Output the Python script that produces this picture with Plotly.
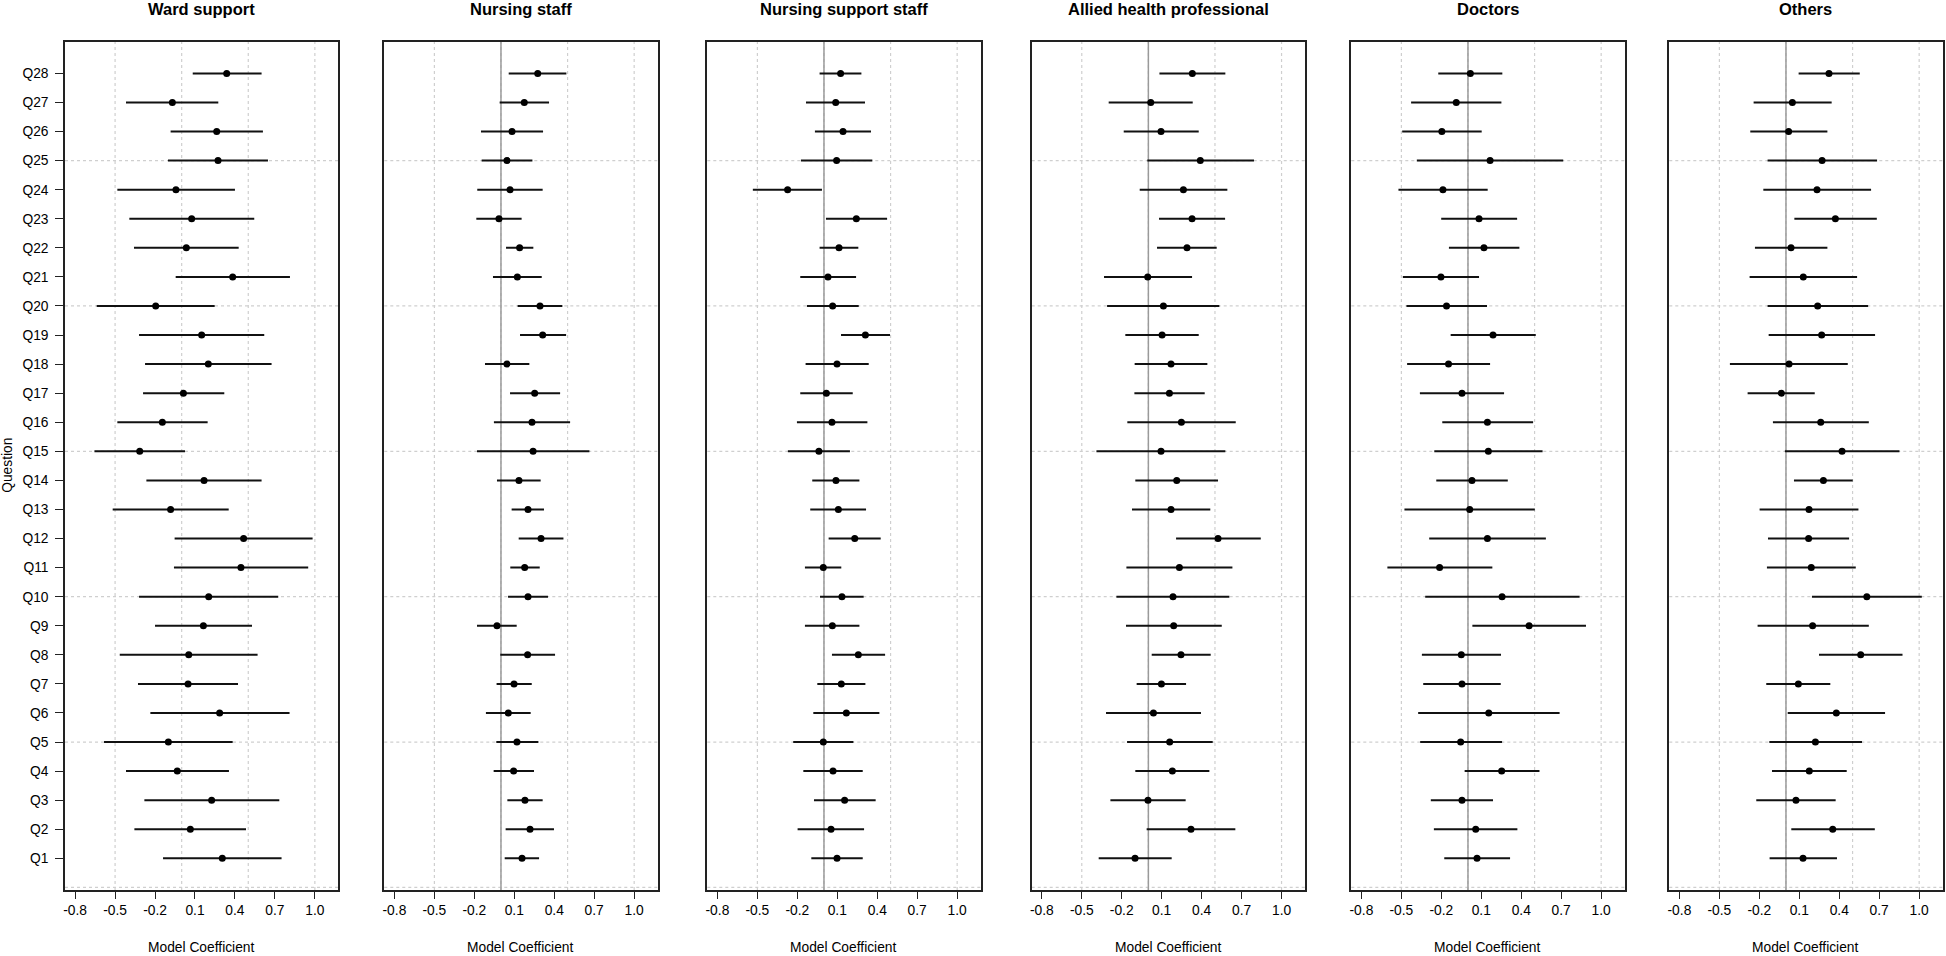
import plotly.graph_objects as go

W, H = 1946, 956

questions = [f"Q{i}" for i in range(1, 29)]
q_pos = list(range(1, 29))

panel_titles = ["Ward support", "Nursing staff", "Nursing support staff",
                "Allied health professional", "Doctors", "Others"]

x_tickvals = [-0.8, -0.5, -0.2, 0.1, 0.4, 0.7, 1.0]
x_ticktext = ["-0.8", "-0.5", "-0.2", "0.1", "0.4", "0.7", "1.0"]
x_gridvals = [-0.5, 0.0, 0.5, 1.0]
y_gridvals = [0, 5, 10, 15, 20, 25]

# Values listed Q1 .. Q28
ward_coef = [0.305, 0.065, 0.225, -0.033, -0.10, 0.285, 0.048, 0.053, 0.163, 0.203, 0.445, 0.465, -0.083, 0.168,
             -0.315, -0.145, 0.013, 0.20, 0.15, -0.195, 0.383, 0.035, 0.075, -0.043, 0.273, 0.263, -0.07, 0.338]
ward_lo = [-0.14, -0.355, -0.28, -0.418, -0.583, -0.235, -0.328, -0.465, -0.20, -0.32, -0.058, -0.053, -0.518, -0.265,
           -0.655, -0.483, -0.29, -0.275, -0.32, -0.638, -0.045, -0.358, -0.393, -0.483, -0.103, -0.083, -0.418, 0.083]
ward_hi = [0.75, 0.483, 0.733, 0.355, 0.383, 0.81, 0.423, 0.57, 0.528, 0.725, 0.95, 0.983, 0.353, 0.60,
           0.025, 0.195, 0.32, 0.675, 0.62, 0.248, 0.813, 0.428, 0.545, 0.40, 0.648, 0.61, 0.275, 0.60]

nurse_coef = [0.158, 0.218, 0.18, 0.095, 0.12, 0.055, 0.098, 0.20, -0.03, 0.203, 0.178, 0.301, 0.203, 0.135,
              0.241, 0.233, 0.253, 0.045, 0.313, 0.293, 0.123, 0.14, -0.015, 0.068, 0.045, 0.083, 0.175, 0.276]
nurse_lo = [0.028, 0.035, 0.048, -0.055, -0.035, -0.113, -0.033, -0.005, -0.18, 0.053, 0.07, 0.133, 0.08, -0.03,
            -0.18, -0.053, 0.068, -0.12, 0.143, 0.125, -0.06, 0.038, -0.185, -0.178, -0.145, -0.15, -0.01, 0.058]
nurse_hi = [0.286, 0.398, 0.313, 0.248, 0.281, 0.223, 0.231, 0.406, 0.118, 0.353, 0.291, 0.469, 0.323, 0.298,
            0.664, 0.519, 0.444, 0.213, 0.489, 0.461, 0.306, 0.243, 0.155, 0.313, 0.236, 0.316, 0.361, 0.491]

nsupport_coef = [0.098, 0.053, 0.155, 0.068, -0.005, 0.168, 0.13, 0.258, 0.063, 0.135, -0.005, 0.231, 0.108, 0.09,
                 -0.038, 0.06, 0.018, 0.098, 0.311, 0.065, 0.03, 0.113, 0.243, -0.273, 0.095, 0.143, 0.088, 0.125]
nsupport_lo = [-0.095, -0.198, -0.075, -0.155, -0.231, -0.08, -0.05, 0.06, -0.143, -0.03, -0.143, 0.035, -0.103, -0.088,
               -0.271, -0.203, -0.178, -0.138, 0.128, -0.128, -0.178, -0.033, 0.015, -0.534, -0.173, -0.068, -0.135, -0.033]
nsupport_hi = [0.291, 0.301, 0.388, 0.291, 0.221, 0.416, 0.311, 0.459, 0.266, 0.298, 0.13, 0.426, 0.316, 0.266,
               0.195, 0.326, 0.216, 0.336, 0.496, 0.261, 0.241, 0.258, 0.474, -0.015, 0.363, 0.353, 0.308, 0.281]

allied_coef = [-0.10, 0.32, -0.003, 0.18, 0.16, 0.038, 0.098, 0.245, 0.19, 0.185, 0.233, 0.523, 0.17, 0.213,
               0.095, 0.248, 0.158, 0.17, 0.103, 0.113, -0.005, 0.29, 0.328, 0.263, 0.39, 0.095, 0.018, 0.33]
allied_lo = [-0.373, -0.013, -0.285, -0.098, -0.16, -0.318, -0.088, 0.025, -0.168, -0.24, -0.165, 0.208, -0.123, -0.098,
             -0.39, -0.158, -0.105, -0.103, -0.173, -0.31, -0.333, 0.065, 0.08, -0.065, -0.008, -0.185, -0.298, 0.083]
allied_hi = [0.175, 0.653, 0.28, 0.458, 0.483, 0.395, 0.283, 0.468, 0.551, 0.608, 0.631, 0.844, 0.465, 0.523,
             0.578, 0.656, 0.423, 0.443, 0.378, 0.533, 0.328, 0.513, 0.576, 0.593, 0.793, 0.378, 0.333, 0.578]

doctors_coef = [0.068, 0.058, -0.045, 0.253, -0.055, 0.156, -0.045, -0.05, 0.459, 0.256, -0.213, 0.146, 0.013, 0.03,
                0.153, 0.146, -0.045, -0.146, 0.188, -0.161, -0.203, 0.12, 0.083, -0.188, 0.166, -0.196, -0.088, 0.018]
doctors_lo = [-0.178, -0.256, -0.279, -0.025, -0.359, -0.374, -0.336, -0.346, 0.033, -0.321, -0.605, -0.291, -0.477, -0.238,
              -0.253, -0.193, -0.361, -0.457, -0.13, -0.462, -0.489, -0.143, -0.201, -0.522, -0.384, -0.494, -0.427, -0.223]
doctors_hi = [0.316, 0.371, 0.188, 0.537, 0.256, 0.688, 0.246, 0.248, 0.886, 0.838, 0.183, 0.585, 0.502, 0.299,
              0.56, 0.489, 0.271, 0.166, 0.509, 0.143, 0.083, 0.386, 0.369, 0.148, 0.715, 0.103, 0.251, 0.258]

others_coef = [0.128, 0.351, 0.075, 0.175, 0.221, 0.378, 0.093, 0.561, 0.20, 0.607, 0.19, 0.17, 0.173, 0.281,
               0.421, 0.261, -0.035, 0.023, 0.268, 0.238, 0.13, 0.038, 0.371, 0.233, 0.271, 0.02, 0.048, 0.323]
others_lo = [-0.123, 0.04, -0.223, -0.105, -0.125, 0.013, -0.148, 0.248, -0.213, 0.195, -0.143, -0.135, -0.198, 0.06,
             -0.008, -0.098, -0.288, -0.421, -0.13, -0.138, -0.273, -0.233, 0.063, -0.17, -0.138, -0.268, -0.243, 0.095]
others_hi = [0.383, 0.667, 0.373, 0.456, 0.571, 0.744, 0.333, 0.875, 0.622, 1.02, 0.524, 0.474, 0.544, 0.501,
             0.852, 0.622, 0.216, 0.464, 0.669, 0.617, 0.534, 0.311, 0.682, 0.639, 0.684, 0.311, 0.343, 0.554]

panels = [
    (ward_coef, ward_lo, ward_hi),
    (nurse_coef, nurse_lo, nurse_hi),
    (nsupport_coef, nsupport_lo, nsupport_hi),
    (allied_coef, allied_lo, allied_hi),
    (doctors_coef, doctors_lo, doctors_hi),
    (others_coef, others_lo, others_hi),
]

FONT = "Liberation Sans, Arial, Helvetica, sans-serif"
panel_left_px = [65, 384.3, 707.3, 1031.7, 1351.3, 1669.3]
panel_w_px = 273.3
box_top_px, box_bot_px = 41.7, 890.0
y_dom = [(H - box_bot_px) / H, (H - box_top_px) / H]

fig = go.Figure()
layout = dict(
    width=W, height=H, margin=dict(l=0, r=0, t=0, b=0, autoexpand=False),
    paper_bgcolor="white", plot_bgcolor="white", showlegend=False,
    font=dict(family=FONT, size=13.8, color="black"),
)
shapes = []
annotations = []

for i, ((coef, lo, hi), title) in enumerate(zip(panels, panel_titles)):
    n = i + 1
    xa = "x" if n == 1 else f"x{n}"
    ya = "y" if n == 1 else f"y{n}"
    xkey = "xaxis" if n == 1 else f"xaxis{n}"
    ykey = "yaxis" if n == 1 else f"yaxis{n}"
    x0 = panel_left_px[i] / W
    x1 = (panel_left_px[i] + panel_w_px) / W

    fig.add_trace(go.Scatter(
        x=coef, y=q_pos, mode="markers", xaxis=xa, yaxis=ya,
        marker=dict(color="black", size=7),
        error_x=dict(type="data", symmetric=False,
                     array=[h - c for h, c in zip(hi, coef)],
                     arrayminus=[c - l for c, l in zip(coef, lo)],
                     width=0, thickness=2, color="#111111"),
        hoverinfo="skip",
    ))

    layout[xkey] = dict(
        domain=[x0, x1], anchor=ya, range=[-0.876, 1.176], automargin=False,
        tickmode="array", tickvals=x_tickvals, ticktext=x_ticktext,
        ticks="outside", ticklen=7, tickwidth=1.3, tickcolor="#222",
        showline=True, mirror=True, linecolor="#222", linewidth=1.5,
        showgrid=False, zeroline=False,
        tickfont=dict(size=13.8, family=FONT, color="black"),
    )
    ydict = dict(
        domain=y_dom, anchor=xa, range=[-0.09, 29.09], automargin=False,
        showline=True, mirror=True, linecolor="#222", linewidth=1.5,
        showgrid=False, zeroline=False,
    )
    if n == 1:
        ydict.update(tickmode="array", tickvals=q_pos, ticktext=questions,
                     ticks="outside", ticklen=8, tickwidth=1.3, tickcolor="#222",
                     tickfont=dict(size=13.8, family=FONT, color="black"),
                     ticklabelstandoff=4)
    else:
        ydict.update(showticklabels=False, ticks="")
    layout[ykey] = ydict

    # dotted grid
    for gv in x_gridvals:
        shapes.append(dict(type="line", xref=xa, yref=f"{ya} domain", x0=gv, x1=gv, y0=0, y1=1,
                           line=dict(color="#cfcfcf", width=1.2, dash="dot"), layer="below"))
    for gv in y_gridvals:
        shapes.append(dict(type="line", xref=f"{xa} domain", yref=ya, x0=0, x1=1, y0=gv, y1=gv,
                           line=dict(color="#cfcfcf", width=1.2, dash="dot"), layer="below"))
    if n > 1:
        shapes.append(dict(type="line", xref=xa, yref=f"{ya} domain", x0=0, x1=0, y0=0, y1=1,
                           line=dict(color="#9a9a9a", width=1.5), layer="below"))

    cx = (x0 + x1) / 2
    annotations.append(dict(text=f"<b>{title}</b>", xref="paper", yref="paper", x=cx, y=1 - 9 / H,
                            xanchor="center", yanchor="middle", showarrow=False,
                            font=dict(size=16.5, family=FONT, color="black")))
    annotations.append(dict(text="Model Coefficient", xref="paper", yref="paper", x=cx, y=0,
                            xanchor="center", yanchor="bottom", showarrow=False, borderpad=0,
                            font=dict(size=13.8, family=FONT, color="black")))

annotations.append(dict(text="Question", xref="paper", yref="paper", x=8 / W, y=sum(y_dom) / 2,
                        xanchor="center", yanchor="middle", showarrow=False, textangle=-90,
                        font=dict(size=13.8, family=FONT, color="black")))

layout["shapes"] = shapes
layout["annotations"] = annotations
fig.update_layout(**layout)
fig.write_html("out.html", config={"displayModeBar": False},
               post_script="document.body.style.margin='0';document.body.style.padding='0';")
